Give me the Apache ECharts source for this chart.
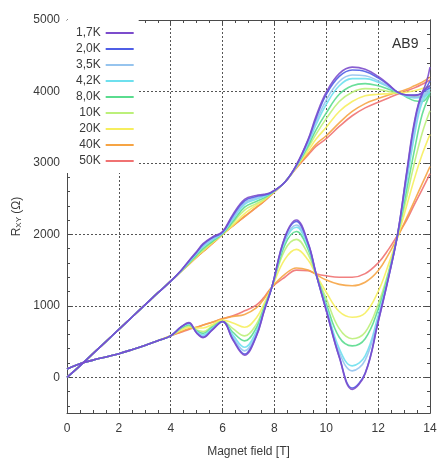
<!DOCTYPE html>
<html><head><meta charset="utf-8">
<script src="https://cdn.jsdelivr.net/npm/echarts@6/dist/echarts.min.js"></script>
<style>html,body{margin:0;padding:0;background:#fff}#c{width:438px;height:461px}</style>
</head><body><div id="c"></div>
<script>
// Magnetic field sample points [T]
const fieldT = [0,0.5,1,1.5,2,2.5,3,3.5,4,4.4,4.7,5,5.25,5.6,6,6.4,6.85,7.3,7.6,7.9,8.4,8.85,9.3,9.6,10,10.5,11,11.5,12,12.4,12.75,13.1,13.4,13.7,14];
const tempLabels = ['1,7K','2,0K','3,5K','4,2K','8,0K','10K','20K','40K','50K'];
const tempColors = ['#7c4ccc','#4f5ee6','#96c4ee','#6ee0ee','#5adc8e','#bcf07a','#f6ee5e','#f6a444','#f07272'];

// Upper family (Hall-like), common part 0..4 T
const upperStart = [0,160,330,500,670,840,1010,1180,1345];
const upper17 = [1495,1630,1760,1870,1960,2040,2280,2490,2545,2560,2595,2730,2975,3330,3650,3990,4250,4340,4310,4210,4100,3990,3950,3945,3990,4340];
const upper20 = [1495,1625,1750,1860,1950,2030,2260,2470,2530,2550,2590,2730,2970,3320,3620,3960,4210,4300,4280,4190,4090,3990,3950,3950,3980,4150];
const upper35 = [1490,1615,1740,1840,1930,2020,2230,2440,2510,2540,2590,2730,2965,3290,3570,3880,4140,4230,4220,4150,4070,3990,3940,3920,3940,4080];
const upper42 = [1490,1610,1730,1830,1920,2020,2210,2420,2490,2530,2585,2730,2960,3270,3530,3820,4080,4180,4180,4130,4060,3990,3930,3910,3920,4040];
const upper80 = [1485,1595,1710,1800,1900,2010,2180,2380,2460,2510,2580,2730,2955,3240,3460,3700,3960,4080,4110,4080,4030,3990,3920,3870,3860,3990];
const upper10 = [1480,1590,1700,1780,1890,2005,2160,2340,2430,2490,2575,2730,2950,3210,3400,3620,3860,3990,4040,4030,4000,3980,3950,3930,3930,4000];
const upper200 = [1480,1585,1690,1770,1880,2000,2130,2290,2410,2480,2570,2730,2945,3170,3330,3500,3720,3860,3940,3960,3970,3980,3990,4010,4040,4080];
const upper400 = [1480,1580,1680,1760,1870,2000,2120,2250,2380,2465,2565,2730,2935,3130,3260,3380,3560,3720,3830,3900,3950,3990,4030,4080,4130,4200];
const upper500 = [1480,1580,1680,1760,1870,2000,2120,2250,2375,2460,2560,2730,2930,3110,3230,3340,3510,3660,3770,3850,3910,3960,4010,4050,4100,4160];

// Lower family (oscillating), common part 0..4 T
const lowerStart = [115,190,240,285,330,385,445,510,580];
const lower17 = [705,765,620,555,660,780,520,310,570,920,1260,1960,2200,1880,1460,930,280,-170,50,770,1390,2000,2870,3580,3980,4080];
const lower20 = [705,760,620,560,665,780,530,325,580,930,1260,1950,2180,1870,1450,935,290,-150,60,780,1395,2000,2850,3550,3960,4050];
const lower35 = [700,750,630,575,675,775,560,370,610,940,1260,1920,2130,1850,1450,960,350,90,240,830,1410,2000,2780,3450,3900,4010];
const lower42 = [700,745,640,590,685,775,590,420,640,950,1260,1900,2100,1830,1450,980,400,160,300,860,1420,2000,2730,3380,3850,3990];
const lower80 = [690,735,650,615,700,780,630,510,690,970,1260,1850,2040,1790,1450,1030,560,440,540,950,1450,1990,2620,3180,3680,3960];
const lower10 = [680,720,660,640,715,785,680,580,740,990,1260,1780,1930,1720,1440,1100,680,540,630,1020,1480,1980,2520,3000,3420,3730];
const lower200 = [660,700,690,690,740,800,760,700,830,1030,1260,1650,1790,1640,1440,1190,920,840,900,1200,1580,1960,2400,2780,3120,3400];
const lower400 = [640,680,700,730,770,820,850,880,970,1100,1260,1440,1530,1500,1440,1360,1300,1280,1330,1490,1720,1960,2230,2470,2710,2950];
const lower500 = [630,670,700,730,770,820,860,930,1010,1120,1260,1400,1500,1490,1450,1420,1400,1400,1450,1600,1790,1990,2200,2420,2630,2850];

const yMajor = [0,1000,2000,3000,4000,5000];
const yMinor = [-400,-200,200,400,600,800,1200,1400,1600,1800,2200,2400,2600,2800,3200,3400,3600,3800,4200,4400,4600,4800];

const upperSets = [upper17,upper20,upper35,upper42,upper80,upper10,upper200,upper400,upper500];
const lowerSets = [lower17,lower20,lower35,lower42,lower80,lower10,lower200,lower400,lower500];

const FONT = "'Liberation Sans Narrow','Liberation Sans','Arial Narrow',sans-serif";
const TXT = '#3a3a3a';
const AX = '#4a4a4a';

function pairs(start, rest){
  const vals = start.concat(rest);
  return fieldT.map((b,i)=>[b, vals[i]]);
}

const series = [];
for (let k = tempLabels.length-1; k >= 0; k--) {
  ['u','l'].forEach(f=>{
    series.push({
      name: tempLabels[k], type:'line', smooth:0.4, showSymbol:false, symbol:'none',
      data: f==='u' ? pairs(upperStart, upperSets[k]) : pairs(lowerStart, lowerSets[k]),
      lineStyle:{width:1.6, color: tempColors[k], opacity:0.9},
      itemStyle:{color: tempColors[k]},
      emphasis:{disabled:true}, animation:false, z:3
    });
  });
}

const xCommon = {type:'value', min:0, max:14, interval:2,
  axisLine:{show:true, onZero:false, lineStyle:{color:AX, width:1}},
  axisTick:{inside:true, length:5, lineStyle:{color:AX}},
  minorTick:{show:true, splitNumber:4, length:3, lineStyle:{color:AX}}};

function yAx(pos, major, withLabel, withSplit){
  return {type:'value', min:-500, max:5000, position:pos,
    axisLine:{show:true, onZero:false, lineStyle:{color:AX, width:1}},
    axisTick:{show:true, inside:true, length: major?5:3, customValues: major?yMajor:yMinor, lineStyle:{color:AX}},
    axisLabel:{show:withLabel, customValues:yMajor, fontSize:12, color:TXT, fontFamily:FONT, margin:7,
      formatter: v => String(v)},
    splitLine:{show:withSplit, lineStyle:{type:[2,2], color:'#555', width:1}},
    minorTick:{show:false}
  };
}

const chart = echarts.init(document.getElementById('c'), null, {renderer:'canvas'});
chart.setOption({
  animation:false,
  backgroundColor:'#fff',
  grid:{left:67, right:8, top:20, bottom:48, containLabel:false, outerBoundsMode:'none'},
  legend:{
    data: tempLabels, orient:'vertical', left:67, top:20, align:'right',
    backgroundColor:'#fff', padding:[7,5,6,9], itemGap:4,
    icon:'rect', itemWidth:28, itemHeight:2,
    textStyle:{fontSize:12, color:TXT, fontFamily:FONT},
    selectedMode:false, z:10
  },
  xAxis:[
    Object.assign({}, xCommon, {position:'bottom',
      axisLabel:{fontSize:12, color:TXT, fontFamily:FONT, margin:10},
      splitLine:{show:true, lineStyle:{type:[2,2], color:'#555', width:1}},
      name:'Magnet field [T]', nameLocation:'middle', nameGap:33, nameMoveOverlap:false,
      nameTextStyle:{fontSize:12, color:TXT, fontFamily:FONT}}),
    Object.assign({}, xCommon, {position:'top', axisLabel:{show:false}, splitLine:{show:false}})
  ],
  yAxis:[
    Object.assign(yAx('left', true, true, true), {
      name:'{a|R}{b|XY}{a| (Ω)}', nameLocation:'middle', nameRotate:90, nameGap:44, nameMoveOverlap:false,
      nameTextStyle:{color:TXT, fontFamily:FONT, rich:{
        a:{fontSize:12, color:TXT, fontFamily:FONT},
        b:{fontSize:8, color:TXT, fontFamily:FONT, padding:[5,0,0,0]}}}
    }),
    yAx('left', false, false, false),
    yAx('right', true, false, false),
    yAx('right', false, false, false)
  ],
  graphic:[{type:'text', left:392, top:37, style:{text:'AB9', fontSize:14, fill:'#333', font:"14px " + FONT}}],
  series: series
});
</script>
</body></html>
